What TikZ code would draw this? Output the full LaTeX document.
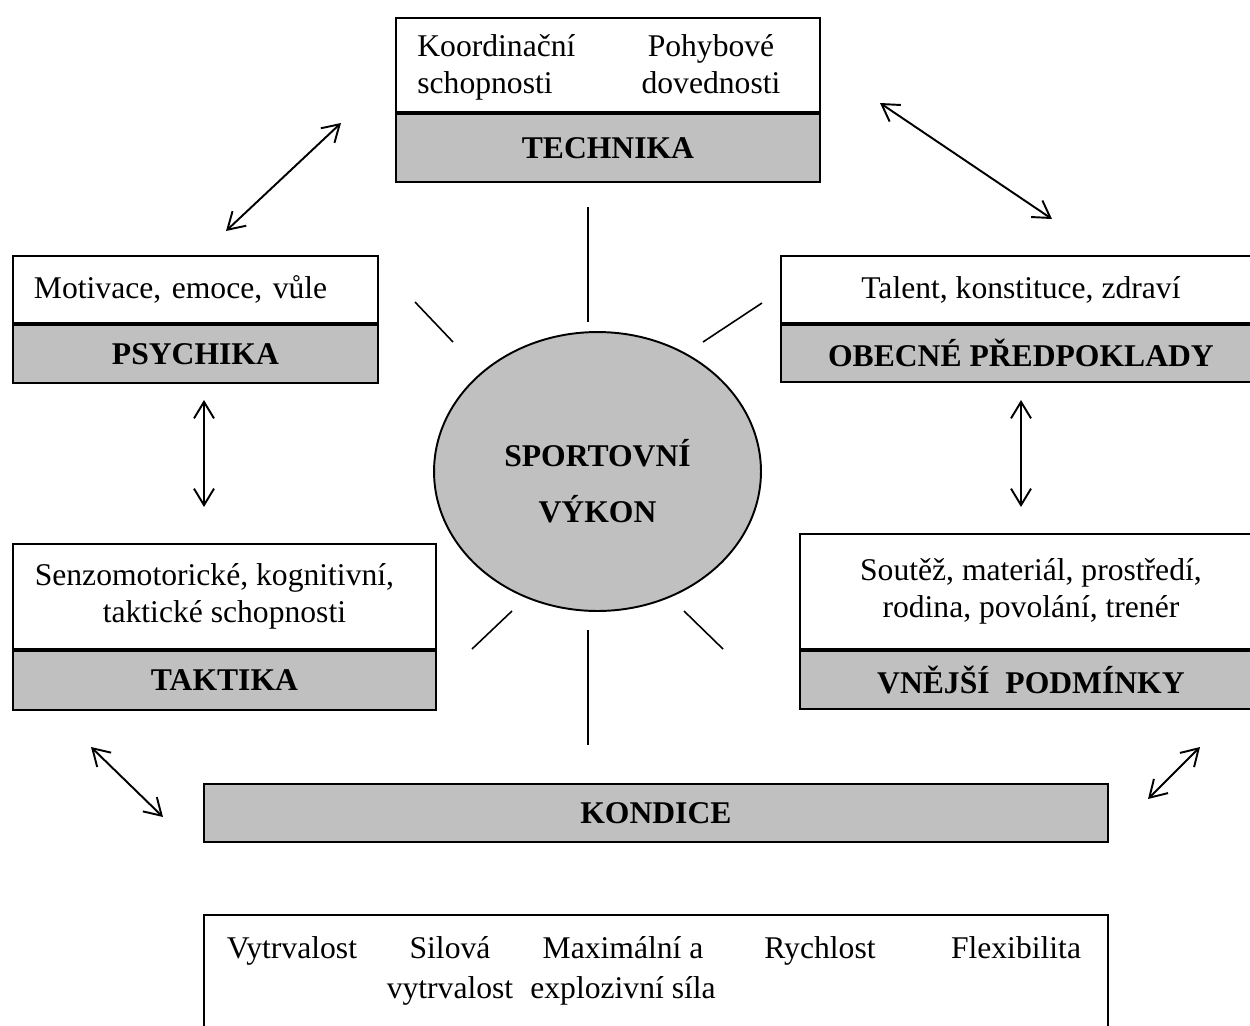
\documentclass[tikz,border=0pt]{standalone}
\usepackage{fontspec}
\setmainfont{Liberation Serif}
\usetikzlibrary{arrows.meta,positioning,shapes.geometric}
\definecolor{seda}{RGB}{192,192,192}
\tikzset{
    %Define standard arrow tip
    >={Straight Barb[length=0.33cm,width=0.4cm]},
    %Define style for boxes
    obsah/.style={
           rectangle,
           draw=black, line width=1.1pt,
           anchor=north west,
           inner sep=0pt,
           align=center},
    nazev/.style={
           rectangle,
           draw=black, line width=1.1pt,
           fill=seda,
           inner sep=0pt,
           font=\bfseries},
    sloupec/.style={
           inner sep=0pt,
           anchor=north,
           align=center},
    % Define arrow style
    sipka/.style={
           <->,
           line width=1.1pt},
    paprsek/.style={
           line width=0.9pt},
}
\begin{document}
\fontsize{18}{21}\selectfont\frenchspacing
\begin{tikzpicture}[x=0.02cm, y=-0.02cm]
\useasboundingbox (0,0) rectangle (1250,1025);

%technika
\node[obsah, minimum width=8.48cm, minimum height=1.88cm] (tech) at (395,17) {};
\node[nazev, below=0pt of tech, minimum width=8.48cm, minimum height=1.36cm] (technika) {TECHNIKA};
\node[sloupec, anchor=north west, align=left] (koord) at (417,34) {Koordinační\\schopnosti};
\node[sloupec] (pohyb) at (711,34) {Pohybové\\dovednosti};

%psychika
\node[obsah, minimum width=7.3cm, minimum height=1.34cm, text width=6.46cm,
  align=left, inner xsep=0.42cm] (psych) at (12,255) {Motivace, emoce, vůle};
\node[nazev, below=0pt of psych, minimum width=7.3cm, minimum height=1.16cm] (psychika) {PSYCHIKA};

%obecne predpoklady
\node[obsah, minimum width=9.6cm, minimum height=1.34cm] (predp) at (780,255) {Talent, konstituce, zdraví};
\node[nazev, below=0pt of predp, minimum width=9.6cm, minimum height=1.14cm] (obecne) {OBECNÉ PŘEDPOKLADY};

%taktika
\node[obsah, minimum width=8.46cm, minimum height=2.1cm] (takt) at (12,543) {Senzomotorické, kognitivní,\hspace*{0.4cm}\\taktické schopnosti};
\node[nazev, below=0pt of takt, minimum width=8.46cm, minimum height=1.18cm] (taktika) {TAKTIKA};

%vnejsi podminky
\node[obsah, minimum width=9.24cm, minimum height=2.3cm] (podm) at (799,533) {Soutěž, materiál, prostředí,\\rodina, povolání, trenér};
\node[nazev, below=0pt of podm, minimum width=9.24cm, minimum height=1.16cm] (vnejsi) {VNĚJŠÍ\ \ PODMÍNKY};

%kondice
\node[nazev, anchor=north west, minimum width=18.08cm, minimum height=1.16cm] (kondice) at (203,783) {KONDICE};
\node[obsah, minimum width=18.08cm, minimum height=3cm] (slozky) at (203,914) {};
\node[sloupec] (vytr) at (292,936) {Vytrvalost};
\node[sloupec] (silvytr) at (450,936) {Silová\\[2pt]vytrvalost};
\node[sloupec] (sila) at (623,936) {Maximální a\\[2pt]explozivní síla};
\node[sloupec] (rychl) at (820,936) {Rychlost};
\node[sloupec] (flex) at (1016,936) {Flexibilita};

%sportovni vykon
\node[ellipse, draw, line width=1.1pt, fill=seda, minimum width=6.54cm, minimum height=5.58cm] (vykon) at (597.5,471.5) {};
\node[font=\bfseries, align=center] (vykontext) at (597.5,481) {SPORTOVNÍ\\[11pt]VÝKON};
\foreach \xa/\ya/\xb/\yb in {588/207/588/322, 588/630/588/745, 415/302/453/342,
  703/342/762/303, 472/649/512/611, 684/611/723/649}
  \draw[paprsek] (\xa,\ya) -- (\xb,\yb);

%sipky
\coordinate (psych1) at (226,231);
\coordinate (tech1) at (341,123);
\coordinate (tech2) at (880,103);
\coordinate (predp1) at (1052,219);
\coordinate (psych2) at (204,400);
\coordinate (takt1) at (204,507);
\coordinate (predp2) at (1021,400);
\coordinate (podm1) at (1021,507);
\coordinate (takt2) at (91,747);
\coordinate (kond1) at (163,817);
\coordinate (kond2) at (1148,799);
\coordinate (podm2) at (1200,747);
\draw[sipka] (psych1) -- (tech1);
\draw[sipka] (tech2) -- (predp1);
\draw[sipka] (psych2) -- (takt1);
\draw[sipka] (predp2) -- (podm1);
\draw[sipka] (takt2) -- (kond1);
\draw[sipka] (kond2) -- (podm2);

\end{tikzpicture}
\end{document}
